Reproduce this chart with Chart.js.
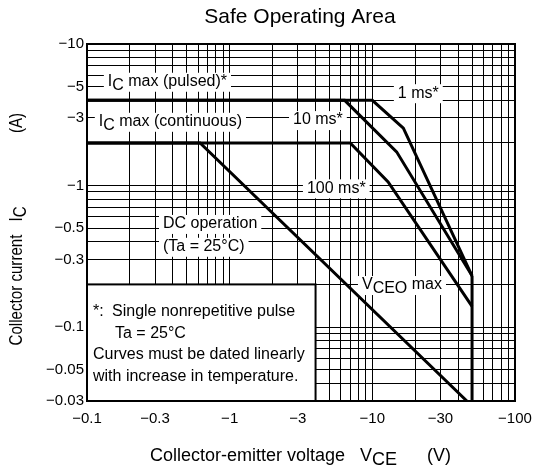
<!DOCTYPE html>
<html>
<head>
<meta charset="utf-8">
<title>Safe Operating Area</title>
<script src="https://cdn.jsdelivr.net/npm/chart.js@4.4.1/dist/chart.umd.min.js"></script>
<style>
  html, body { margin: 0; padding: 0; background: #fff; }
  #soa { display: block; }
</style>
</head>
<body>
<canvas id="soa" width="533" height="475"></canvas>
<script>
'use strict';

// PNP part: every value on the plot is negative, the arrays hold magnitudes
// and the tick labels put the minus sign back.
const GRID_X = [0.1, 0.2, 0.3, 0.4, 0.5, 0.6, 0.7, 0.8, 0.9,
  1, 2, 3, 4, 5, 6, 7, 8, 9, 10, 20, 30, 40, 50, 60, 70, 80, 90, 100];
const GRID_Y = [0.03, 0.04, 0.05, 0.06, 0.07, 0.08, 0.09,
  0.1, 0.2, 0.3, 0.4, 0.5, 0.6, 0.7, 0.8, 0.9,
  1, 2, 3, 4, 5, 6, 7, 8, 9, 10];
const X_LABELS = [0.1, 0.3, 1, 3, 10, 30, 100];
const Y_LABELS = [0.03, 0.05, 0.1, 0.3, 0.5, 1, 3, 5, 10];

// collector-emitter voltage (V) / collector current (A)
const PULSE_1MS_V = [0.1, 10, 16.5, 50];
const PULSE_1MS_I = [4, 4, 2.54, 0.23];
const PULSE_10MS_V = [0.1, 6.4, 14.8, 50];
const PULSE_10MS_I = [4, 4, 1.73, 0.23];
const PULSE_100MS_V = [0.1, 7, 12.9, 50];
const PULSE_100MS_I = [2, 2, 1.06, 0.14];
const DC_V = [0.1, 0.62, 46];
const DC_I = [2, 2, 0.03];
const VCEO_V = [50, 50];
const VCEO_I = [0.23, 0.03];

const FONT = '"Liberation Sans", Arial, Helvetica, sans-serif';

function points(vs, is) {
  return vs.map((v, i) => ({ x: v, y: is[i] }));
}

function curve(label, vs, is) {
  return {
    label,
    data: points(vs, is),
    borderColor: '#000',
    borderWidth: 3,
    pointRadius: 0,
    tension: 0,
    fill: false
  };
}

function minusLabel(v) {
  return '\u2212' + v;
}

// text runs, "sub" drops a letter like the subscripts in I_C / V_CEO
function drawRuns(ctx, runs, x, y, size) {
  ctx.font = `${size}px ${FONT}`;
  let cx = x;
  for (const r of runs) {
    ctx.fillText(r.t, cx, y + (r.sub ? Math.round(size * 0.22) : 0));
    cx += ctx.measureText(r.t).width;
  }
  return cx - x;
}

function runsWidth(ctx, runs, size) {
  ctx.font = `${size}px ${FONT}`;
  return runs.reduce((w, r) => w + ctx.measureText(r.t).width, 0);
}

// labels sitting on the grid, anchored at (left V, centre I)
const NOTES = [
  { v: 0.14, i: 5.41, runs: [{ t: 'I' }, { t: 'C', sub: true }, { t: ' max (pulsed)*' }] },
  { v: 0.121, i: 2.82, runs: [{ t: 'I' }, { t: 'C', sub: true }, { t: ' max (continuous)' }] },
  { v: 15.1, i: 4.49, runs: [{ t: '1 ms*' }] },
  { v: 2.78, i: 2.9, runs: [{ t: '10 ms*' }] },
  { v: 3.48, i: 0.955, runs: [{ t: '100 ms*' }] },
  { v: 0.341, i: 0.535, runs: [{ t: 'DC operation' }] },
  { v: 0.341, i: 0.369, runs: [{ t: '(Ta = 25\u00b0C)' }] },
  { v: 8.46, i: 0.198, runs: [{ t: 'V' }, { t: 'CEO', sub: true }, { t: ' max' }] }
];

const BOX_V = [0.1, 4];
const BOX_I = [0.03, 0.2];
const BOX_LINES = [
  { dx: 6, runs: [{ t: '*:' }] },
  { dx: 25, runs: [{ t: 'Single nonrepetitive pulse' }], same: true },
  { dx: 28, runs: [{ t: 'Ta = 25\u00b0C' }] },
  { dx: 6, runs: [{ t: 'Curves must be dated linearly' }] },
  { dx: 6, runs: [{ t: 'with increase in temperature.' }] }
];

const soaDecor = {
  id: 'soaDecor',
  beforeDatasetsDraw(chart) {
    const { ctx } = chart;
    const xs = chart.scales.x;
    const ys = chart.scales.y;
    const size = 16;

    ctx.save();
    ctx.textBaseline = 'middle';

    for (const n of NOTES) {
      const x = xs.getPixelForValue(n.v);
      const y = ys.getPixelForValue(n.i);
      const w = runsWidth(ctx, n.runs, size);
      ctx.fillStyle = '#fff';
      ctx.fillRect(x - 4, y - 9, w + 8, 19);
      ctx.fillStyle = '#000';
      drawRuns(ctx, n.runs, x, y, size);
    }

    // note box in the lower left corner
    const bx0 = xs.getPixelForValue(BOX_V[0]);
    const bx1 = xs.getPixelForValue(BOX_V[1]);
    const by0 = ys.getPixelForValue(BOX_I[1]);
    const by1 = ys.getPixelForValue(BOX_I[0]);
    ctx.fillStyle = '#fff';
    ctx.fillRect(bx0, by0, bx1 - bx0, by1 - by0);
    ctx.strokeStyle = '#000';
    ctx.lineWidth = 2;
    ctx.strokeRect(bx0, by0, bx1 - bx0, by1 - by0);

    ctx.fillStyle = '#000';
    let line = 0;
    for (const l of BOX_LINES) {
      if (!l.same && l !== BOX_LINES[0]) {
        line++;
      }
      drawRuns(ctx, l.runs, bx0 + l.dx, by0 + 27 + line * 21.7, size);
    }
    ctx.restore();
  },
  afterDraw(chart) {
    const { ctx, chartArea: a } = chart;
    ctx.save();
    ctx.strokeStyle = '#000';
    ctx.lineWidth = 2;
    ctx.strokeRect(a.left, a.top, a.right - a.left, a.bottom - a.top);

    ctx.fillStyle = '#000';
    ctx.textBaseline = 'middle';
    ctx.textAlign = 'center';
    ctx.font = `21px ${FONT}`;
    ctx.fillText('Safe Operating Area', 300, 17);

    // x axis title
    ctx.textAlign = 'left';
    ctx.font = `18px ${FONT}`;
    ctx.fillText('Collector-emitter voltage', 150, 456);
    drawRuns(ctx, [{ t: 'V' }, { t: 'CE', sub: true }], 360, 456, 18);
    ctx.font = `18px ${FONT}`;
    ctx.fillText('(V)', 427, 456);

    // y axis title, read bottom to top; the original squeezes it lengthwise
    const yPieces = [
      { c: 290, runs: [{ t: 'Collector current' }] },
      { c: 214, runs: [{ t: 'I' }, { t: 'C', sub: true }] },
      { c: 123, runs: [{ t: '(A)' }] }
    ];
    for (const p of yPieces) {
      ctx.save();
      ctx.translate(17, p.c);
      ctx.rotate(-Math.PI / 2);
      ctx.scale(0.84, 1);
      const w = runsWidth(ctx, p.runs, 18);
      drawRuns(ctx, p.runs, -w / 2, 0, 18);
      ctx.restore();
    }
    ctx.restore();
  }
};

new Chart(document.getElementById('soa'), {
  type: 'line',
  data: {
    datasets: [
      curve('1 ms', PULSE_1MS_V, PULSE_1MS_I),
      curve('10 ms', PULSE_10MS_V, PULSE_10MS_I),
      curve('100 ms', PULSE_100MS_V, PULSE_100MS_I),
      curve('DC', DC_V, DC_I),
      curve('VCEO max', VCEO_V, VCEO_I)
    ]
  },
  options: {
    responsive: false,
    animation: false,
    events: [],
    layout: { padding: { top: 44, right: 18, left: 0, bottom: 0 } },
    plugins: {
      legend: { display: false },
      title: { display: false },
      tooltip: { enabled: false }
    },
    scales: {
      x: {
        type: 'logarithmic',
        min: 0.1,
        max: 100,
        afterBuildTicks(scale) {
          scale.ticks = GRID_X.map((value) => ({ value }));
        },
        afterFit(scale) {
          scale.height = 74;
        },
        ticks: {
          autoSkip: false,
          maxRotation: 0,
          padding: 1,
          color: '#000',
          font: { family: FONT, size: 15, lineHeight: 2.2 },
          callback(value) {
            return X_LABELS.includes(value) ? minusLabel(value) : '';
          }
        },
        grid: { color: '#000', lineWidth: 1, drawTicks: false },
        border: { display: true, color: '#000', width: 2 }
      },
      y: {
        type: 'logarithmic',
        min: 0.03,
        max: 10,
        afterBuildTicks(scale) {
          scale.ticks = GRID_Y.map((value) => ({ value }));
        },
        afterFit(scale) {
          scale.width = 87;
        },
        ticks: {
          autoSkip: false,
          padding: 3,
          color: '#000',
          font: { family: FONT, size: 15 },
          callback(value) {
            return Y_LABELS.includes(value) ? minusLabel(value) : '';
          }
        },
        grid: { color: '#000', lineWidth: 1, drawTicks: false },
        border: { display: true, color: '#000', width: 2 }
      }
    }
  },
  plugins: [soaDecor]
});
</script>
</body>
</html>
